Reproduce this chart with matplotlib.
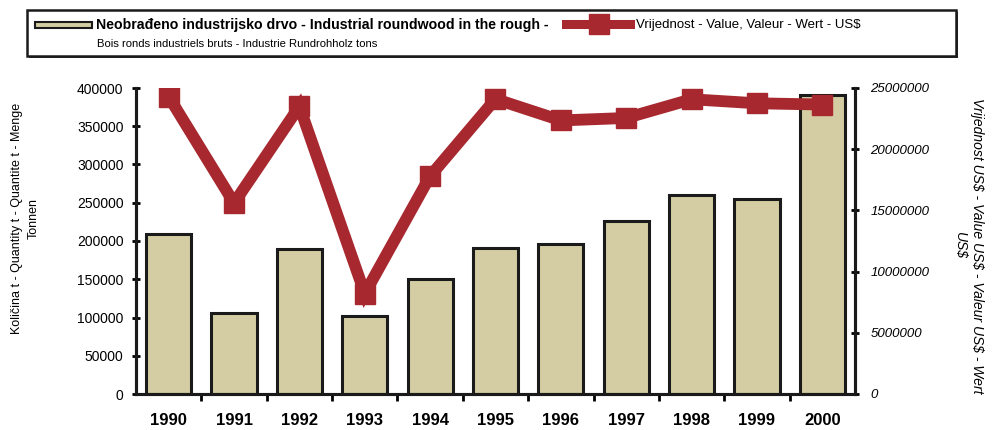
import matplotlib
matplotlib.use("Agg")
import matplotlib.pyplot as plt
from matplotlib.patches import Rectangle
from matplotlib.lines import Line2D
import numpy as np

plt.rcParams['font.family'] = ['Liberation Sans', 'DejaVu Sans']

# data
years = ['1990', '1991', '1992', '1993', '1994', '1995', '1996', '1997', '1998', '1999', '2000']
kolicina = [209000, 106000, 190000, 102000, 150500, 190500, 196000, 226500, 260500, 255500, 390500]
vrijednost = [24300000, 15600000, 23500000, 8200000, 17800000, 24100000, 22350000, 22550000, 24080000, 23750000, 23650000]

bar_col = '#d4cda3'
line_col = '#a8282f'

W, H = 992, 430
def fx(px):
    return px / W
def fy(py):
    return 1 - py / H

fig = plt.figure(figsize=(9.92, 4.3), dpi=100)
ax = fig.add_axes([fx(136), fy(394), 719 / W, 306 / H])
ax2 = ax.twinx()

x = np.arange(len(years))
ax.bar(x, kolicina, width=0.69, color=bar_col, edgecolor='#1a1a1a', linewidth=2.2, zorder=2)
ax2.plot(x, vrijednost, color=line_col, lw=8.5, marker='s', markersize=15, solid_joinstyle='miter', zorder=3)

ax.set_xlim(-0.5, len(years) - 0.5)
ax.set_ylim(0, 400000)
ax2.set_ylim(0, 25000000)
ax.set_yticks(np.arange(0, 400001, 50000))
ax2.set_yticks(np.arange(0, 25000001, 5000000))
ax.set_yticklabels([str(v) for v in range(0, 400001, 50000)], fontsize=10)
ax2.set_yticklabels([str(v) for v in range(0, 25000001, 5000000)], fontsize=9.5, style='italic')

ax.set_xticks(x)
ax.set_xticklabels(years, fontsize=12, fontweight='bold')
ax.set_xticks(np.arange(0.5, len(years) - 1, 1), minor=True)
ax.tick_params(axis='x', which='major', length=0, pad=14)
ax.tick_params(axis='x', which='minor', length=5, width=2, direction='out')
ax.tick_params(axis='y', length=6, width=2, direction='inout', pad=6)
ax2.tick_params(axis='y', length=6, width=2, direction='inout', pad=8)

for a in (ax, ax2):
    a.spines['top'].set_visible(False)
    for s in ('left', 'right', 'bottom'):
        a.spines[s].set_linewidth(2.2)
        a.spines[s].set_color('#1a1a1a')

ax.set_ylabel('Količina t - Quantity t - Quantite t - Menge\nTonnen', fontsize=9, linespacing=1.5)
ax.yaxis.set_label_coords(-0.134, 0.575)
ax2.set_ylabel('Vrijednost US$ - Value US$ - Valeur US$ - Wert\nUS$', fontsize=10,
               style='italic', rotation=270, linespacing=1.3)
ax2.yaxis.set_label_coords(1.18, 0.485)

# legend box drawn by hand (mixed bold / regular text)
fig.add_artist(Rectangle((fx(29), fy(58)), 929 / W, 46 / H, transform=fig.transFigure,
                         facecolor='#333333', edgecolor='none', zorder=0))
fig.add_artist(Rectangle((fx(27), fy(56)), 929 / W, 46 / H, transform=fig.transFigure,
                         facecolor='white', edgecolor='#1a1a1a', linewidth=1.8, zorder=1))
fig.add_artist(Rectangle((fx(35), fy(28)), 57 / W, 6 / H, transform=fig.transFigure,
                         facecolor=bar_col, edgecolor='#1a1a1a', linewidth=1.5, zorder=2))
fig.add_artist(Line2D([fx(566), fx(630)], [fy(24), fy(24)], transform=fig.transFigure,
                      color=line_col, lw=6.5, zorder=2))
fig.add_artist(Line2D([fx(599)], [fy(24)], transform=fig.transFigure, color=line_col,
                      marker='s', markersize=14, zorder=2))
fig.text(fx(96), fy(25), 'Neobrađeno industrijsko drvo - Industrial roundwood in the rough -',
         fontsize=10.2, fontweight='bold', va='center', ha='left', zorder=3)
fig.text(fx(97), fy(44), 'Bois ronds industriels bruts - Industrie Rundrohholz tons',
         fontsize=8.1, va='center', ha='left', zorder=3)
fig.text(fx(636), fy(25), 'Vrijednost - Value, Valeur - Wert - US$',
         fontsize=9.5, va='center', ha='left', zorder=3)

fig.savefig('out.png', dpi=100)
